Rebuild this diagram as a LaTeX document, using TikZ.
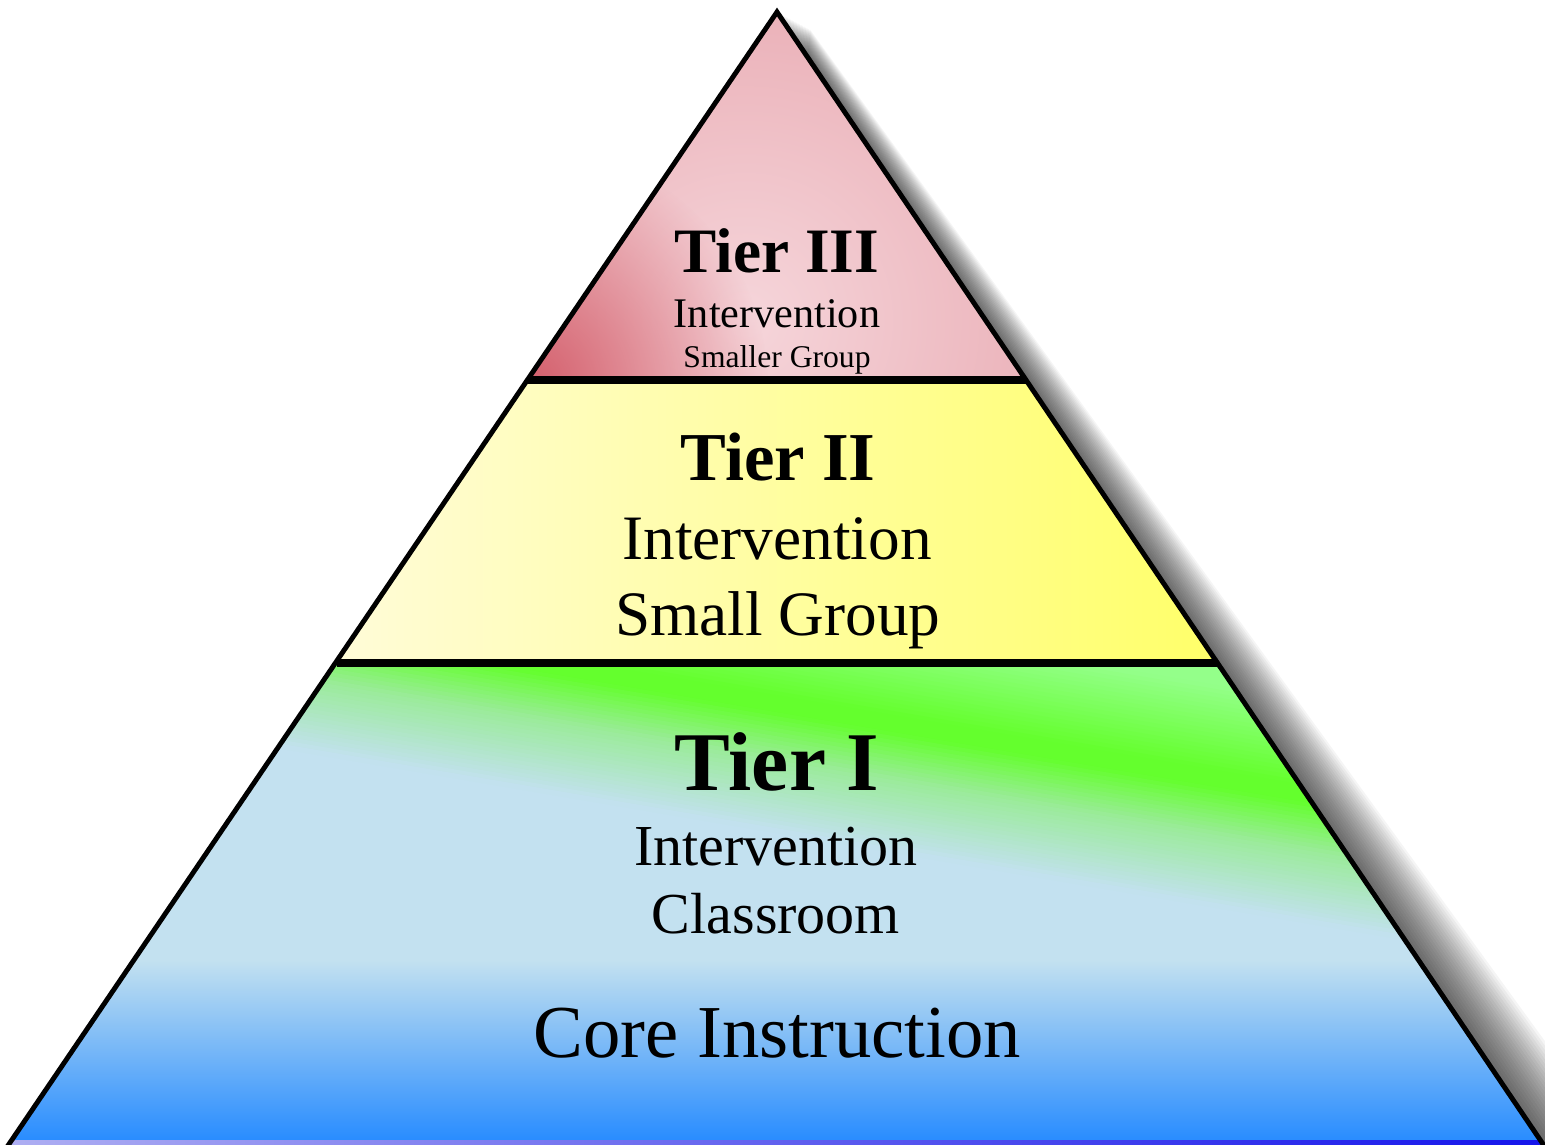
\documentclass[tikz,border=0pt]{standalone}
\usepackage{fontspec}
\setmainfont{Liberation Serif}
\usetikzlibrary{fadings}

\definecolor{tipPink}{RGB}{233,170,178}
\definecolor{tipLight}{RGB}{246,214,219}
\definecolor{tipDark}{RGB}{212,95,108}
\definecolor{midPale}{RGB}{255,252,216}
\definecolor{midYellow}{RGB}{255,255,105}
\definecolor{lGreen}{RGB}{148,255,138}
\definecolor{bGreen}{RGB}{100,255,45}
\definecolor{mGreen}{RGB}{155,235,155}
\definecolor{baseSky}{RGB}{195,225,240}
\definecolor{baseBlue}{RGB}{40,140,255}
\definecolor{rimLav}{RGB}{175,175,242}
\definecolor{rimBlue}{RGB}{20,20,235}

\tikzfading[name=softspot,inner color=transparent!0,outer color=transparent!100]

\begin{document}
\begin{tikzpicture}[x=0.2mm,y=-0.2mm,
  lbl/.style={anchor=base,inner sep=0pt},
  head/.style={lbl,font=\bfseries\fontsize{#1}{#1}\selectfont},
  sub/.style={lbl,font=\fontsize{#1}{#1}\selectfont},
]
\useasboundingbox (0,0) rectangle (1545,1145);

% ----- pyramid corners and tier breaks -----
\coordinate (apex) at (777,12);
\coordinate (bl)   at (5,1150);
\coordinate (br)   at (1547,1150);
\coordinate (t3l)  at (527.6,380);
\coordinate (t3r)  at (1026.1,380);
\coordinate (t2l)  at (336.5,663);
\coordinate (t2r)  at (1217.2,663);

% soft shadow on the right flank
\foreach \k in {1,...,22}
  \fill[black,opacity=0.04] (777+1.5*\k,12+0.8*\k) -- (1547+3.5*\k,1150) -- (700,1150) -- cycle;

% ----- Tier III -----
\begin{scope}
  \clip (apex) -- (t3r) -- (t3l) -- cycle;
  \fill[tipPink] (apex) -- (t3r) -- (t3l) -- cycle;
  \fill[tipLight,path fading=softspot] (745,320) circle (380);
  \fill[tipDark,path fading=softspot] (528,385) circle (240);
\end{scope}

% ----- Tier II -----
\shade[left color=midPale,right color=midYellow] (t3l) -- (t3r) -- (t2r) -- (t2l) -- cycle;

% ----- Tier I -----
\begin{scope}
  \clip (t2l) -- (t2r) -- (br) -- (bl) -- cycle;
  \fill[baseSky] (0,650) rectangle (1545,1150);
  \shade[top color=baseSky,bottom color=baseBlue] (0,960) rectangle (1545,1141);
  % slanted green band, built from thin strips
  \foreach \da/\db/\ca/\cb in {540/610/lGreen/lGreen, 610/695/lGreen/bGreen,
      695/712/bGreen/bGreen, 712/760/bGreen/mGreen, 760/832/mGreen/baseSky}{
    \pgfmathsetmacro\n{int((\db-\da)/4)}
    \foreach \i in {1,...,\n}{
      \pgfmathsetmacro\p{100*(\i-0.5)/\n}
      \pgfmathsetmacro\lo{\da+(\i-1)*(\db-\da)/\n}
      \pgfmathsetmacro\hi{\da+\i*(\db-\da)/\n+1}
      \fill[\cb!\p!\ca] (0,\lo-132) -- (1545,\lo+131) -- (1545,\hi+131) -- (0,\hi-132) -- cycle;
    }
  }
  \shade[left color=rimLav,right color=rimBlue] (0,1140) rectangle (1545,1150);
\end{scope}

% ----- outline and tier breaks -----
\draw[line width=2.8pt,line join=miter] (bl) -- (apex) -- (br);
\draw[line width=4pt] (t3l) -- (t3r);
\draw[line width=5pt] (t2l) -- (t2r);

% ----- labels -----
\node[head=36] (t3head) at (777,273) {Tier III};
\node[sub=24]  (t3kind) at (777,328) {Intervention};
\node[sub=18]  (t3size) at (777,368) {Smaller Group};

\node[head=39] (t2head) at (778,480) {Tier II};
\node[sub=36]  (t2kind) at (777,559) {Intervention};
\node[sub=36]  (t2size) at (778,635) {Small Group};

\node[head=47.5] (t1head) at (777,790) {Tier I};
\node[sub=33]    (t1kind) at (776,865) {Intervention};
\node[sub=33]    (t1size) at (776,933) {Classroom};

\node[sub=42.5] (core) at (777,1057) {Core Instruction};

\end{tikzpicture}
\end{document}
